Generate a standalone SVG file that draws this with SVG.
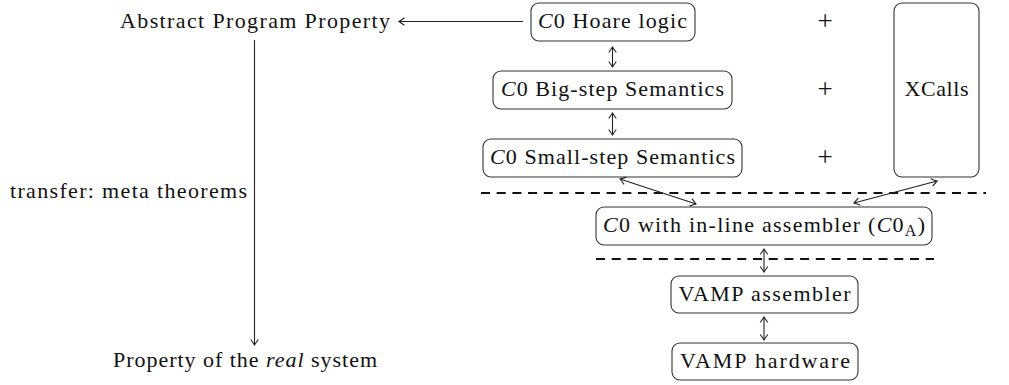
<svg xmlns="http://www.w3.org/2000/svg" width="1009" height="385" viewBox="0 0 1009 385">
<style>
text{font-family:"Liberation Serif","Times New Roman",serif;font-size:22px;fill:#111;}
.c{text-anchor:middle;}
.it{font-style:italic;}
.pl{font-size:27px;}
.box{fill:none;stroke:#333;stroke-width:1.1;}
.ln{fill:none;stroke:#222;stroke-width:1.1;}
.dash{fill:none;stroke:#111;stroke-width:2.2;stroke-dasharray:9 6.7;}
</style>
<defs>
<marker id="ah" markerWidth="12" markerHeight="12" refX="0" refY="0" viewBox="-7 -6 8 12" orient="auto-start-reverse" markerUnits="userSpaceOnUse">
<path d="M -5.5 -3.8 Q -1.5 -0.9 0 0 Q -1.5 0.9 -5.5 3.8" fill="none" stroke="#222" stroke-width="1.1"/>
</marker>
</defs>
<g id="abstract"><text class="c" x="255" y="28" textLength="270">Abstract Program Property</text></g>
<g id="transfer"><text class="c" x="128.5" y="198" textLength="237">transfer: meta theorems</text></g>
<g id="real"><text class="c" x="245" y="367" textLength="264">Property of the <tspan class="it">real</tspan> system</text></g>
<g id="hoare"><rect class="box" x="531" y="3" width="164" height="38" rx="8"/><text class="c" x="612.5" y="28" textLength="149"><tspan class="it">C</tspan>0 Hoare logic</text></g>
<g id="bigstep"><rect class="box" x="493" y="71" width="239" height="38" rx="8"/><text class="c" x="612.5" y="96" textLength="223"><tspan class="it">C</tspan>0 Big-step Semantics</text></g>
<g id="smallstep"><rect class="box" x="483" y="139" width="259" height="38" rx="8"/><text class="c" x="612.5" y="164" textLength="245"><tspan class="it">C</tspan>0 Small-step Semantics</text></g>
<g id="xcalls"><rect class="box" x="894" y="3" width="85" height="174" rx="8"/><text class="c" x="936.5" y="96" textLength="64">XCalls</text></g>
<g id="plus"><text class="c pl" x="825" y="30">+</text><text class="c pl" x="825" y="98">+</text><text class="c pl" x="825" y="166">+</text></g>
<g id="c0a"><rect class="box" x="596" y="207" width="336" height="38" rx="8"/><text class="c" x="764" y="232" textLength="322"><tspan class="it">C</tspan>0 with in-line assembler (<tspan class="it">C</tspan>0<tspan font-size="16" dy="4">A</tspan><tspan dy="-4">)</tspan></text></g>
<g id="vampasm"><rect class="box" x="671" y="276" width="187" height="37" rx="8"/><text class="c" x="764.5" y="301" textLength="172">VAMP assembler</text></g>
<g id="vamphw"><rect class="box" x="672" y="343" width="186" height="37" rx="8"/><text class="c" x="765" y="368" textLength="170">VAMP hardware</text></g>
<g id="separators"><line class="dash" x1="481" y1="193" x2="986" y2="193"/><line class="dash" x1="596" y1="259" x2="934" y2="259"/></g>
<g id="connectors">
<line class="ln" x1="523" y1="21.5" x2="399" y2="21.5" marker-end="url(#ah)"/>
<line class="ln" x1="254.5" y1="40" x2="254.5" y2="345" marker-end="url(#ah)"/>
<line class="ln" x1="612.5" y1="47" x2="612.5" y2="67" marker-start="url(#ah)" marker-end="url(#ah)"/>
<line class="ln" x1="612.5" y1="113" x2="612.5" y2="135" marker-start="url(#ah)" marker-end="url(#ah)"/>
<line class="ln" x1="764" y1="249" x2="764" y2="272" marker-start="url(#ah)" marker-end="url(#ah)"/>
<line class="ln" x1="764" y1="317" x2="764" y2="340" marker-start="url(#ah)" marker-end="url(#ah)"/>
<line class="ln" x1="620" y1="179" x2="696" y2="204" marker-start="url(#ah)" marker-end="url(#ah)"/>
<line class="ln" x1="854" y1="203" x2="937" y2="181" marker-start="url(#ah)" marker-end="url(#ah)"/>
</g>
</svg>
